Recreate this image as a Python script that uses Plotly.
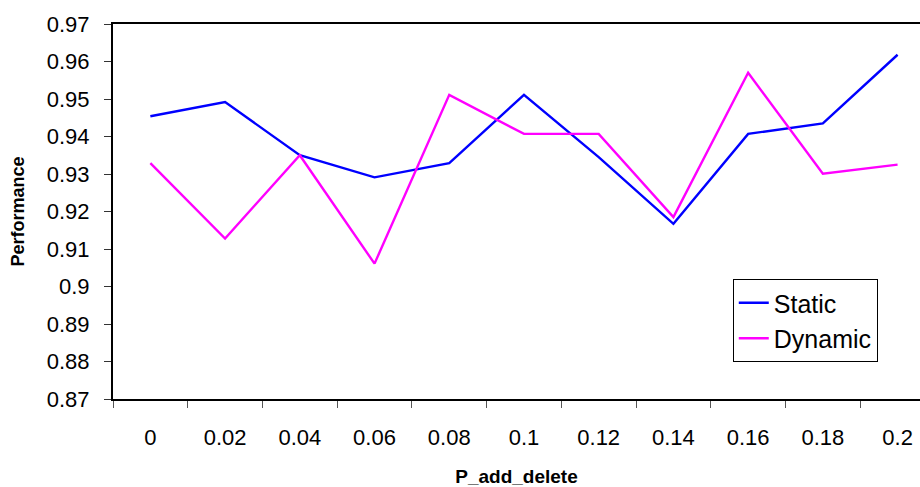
import plotly.graph_objects as go

categories = ["0", "0.02", "0.04", "0.06", "0.08", "0.1", "0.12", "0.14", "0.16", "0.18", "0.2"]
static_vals = [0.9454, 0.9492, 0.9350, 0.9291, 0.9329, 0.9511, 0.9345, 0.9167, 0.9407, 0.9435, 0.9618]
dynamic_vals = [0.9329, 0.9128, 0.9350, 0.9061, 0.9511, 0.9407, 0.9407, 0.9185, 0.9570, 0.9301, 0.9325]
y_ticks = [0.87, 0.88, 0.89, 0.90, 0.91, 0.92, 0.93, 0.94, 0.95, 0.96, 0.97]
y_tick_text = ["0.87", "0.88", "0.89", "0.9", "0.91", "0.92", "0.93", "0.94", "0.95", "0.96", "0.97"]

FONT = "Liberation Sans, Arial, sans-serif"

fig = go.Figure()
fig.add_trace(go.Scatter(x=categories, y=static_vals, mode="lines", name="Static",
                         line=dict(color="#0000FF", width=2.4)))
fig.add_trace(go.Scatter(x=categories, y=dynamic_vals, mode="lines", name="Dynamic",
                         line=dict(color="#FF00FF", width=2.4)))

fig.update_layout(
    width=920, height=487,
    margin=dict(l=113, r=0, t=24, b=88),
    paper_bgcolor="white", plot_bgcolor="white",
    font=dict(family=FONT, color="black"),
    showlegend=True,
    legend=dict(x=0.768, y=0.32, xanchor="left", yanchor="top",
                bordercolor="black", borderwidth=1, bgcolor="white",
                font=dict(size=25, family=FONT)),
    xaxis=dict(type="category", range=[-0.5, 10.3], tickson="boundaries",
               showgrid=False, zeroline=False,
               showline=True, linecolor="black", linewidth=2, mirror=True,
               ticks="outside", ticklen=7, tickcolor="#555", tickwidth=1,
               tickfont=dict(size=22), ticklabelstandoff=18,
               title=dict(text="<b>P_add_delete</b>", font=dict(size=19), standoff=20)),
    yaxis=dict(range=[0.87, 0.97], tickvals=y_ticks, ticktext=y_tick_text,
               showgrid=False, zeroline=False,
               showline=True, linecolor="black", linewidth=2,
               ticks="outside", ticklen=7, tickcolor="#333", tickwidth=1,
               tickfont=dict(size=22), ticklabelstandoff=10,
               title=dict(text="<b>Performance</b>", font=dict(size=18), standoff=17)),
)

fig.write_html("out.html", config={"displayModeBar": False},
               post_script="document.body.style.margin='0';document.body.style.overflow='hidden';")
